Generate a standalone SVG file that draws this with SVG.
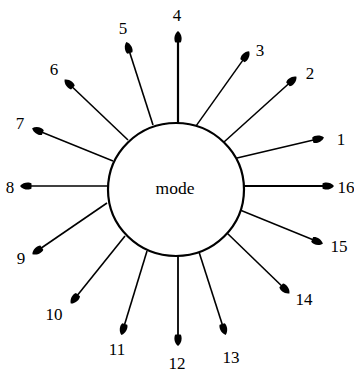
<svg xmlns="http://www.w3.org/2000/svg" width="354" height="372" viewBox="0 0 354 372">
<style>
.ln{stroke:#000;stroke-width:1.6;fill:none;marker-end:url(#ah)}
.tk{stroke-width:2.2}
.lb{font-family:"Liberation Serif","Times New Roman",serif;font-size:17px;fill:#000;text-anchor:middle}
</style>
<defs>
<marker id="ah" markerUnits="userSpaceOnUse" markerWidth="16" markerHeight="12" viewBox="-12 -6 16 12" refX="0" refY="0" orient="auto">
<path d="M2,0 C-1,-4 -7,-4.4 -9.5,-2.6 L-9.5,2.6 C-7,4.4 -1,4 2,0 Z" fill="#000"/>
</marker>
</defs>
<rect width="354" height="372" fill="#fff"/>
<g id="connectors">
<line class="ln" x1="237" y1="158" x2="322" y2="138"/>
<line class="ln" x1="224" y1="142" x2="295" y2="78"/>
<line class="ln" x1="196" y1="126" x2="248" y2="53" style="stroke-width:1.3"/>
<line class="ln tk" x1="178" y1="123" x2="178" y2="33"/>
<line class="ln" x1="153" y1="125" x2="127" y2="44"/>
<line class="ln" x1="128" y1="140" x2="66" y2="81"/>
<line class="ln" x1="113" y1="161" x2="34" y2="129" style="stroke-width:1.4"/>
<line class="ln tk" x1="108" y1="186" x2="22" y2="186" style="stroke-width:1.6"/>
<line class="ln" x1="107" y1="203" x2="34" y2="253"/>
<line class="ln" x1="125" y1="236" x2="72" y2="302"/>
<line class="ln" x1="147" y1="251" x2="122" y2="333"/>
<line class="ln tk" x1="178" y1="256" x2="178" y2="344" style="stroke-width:1.8"/>
<line class="ln" x1="199" y1="252" x2="225" y2="333"/>
<line class="ln" x1="227" y1="233" x2="288" y2="292"/>
<line class="ln" x1="240" y1="210" x2="321" y2="243" style="stroke-width:1.4"/>
<line class="ln tk" x1="243" y1="186" x2="332" y2="186" style="stroke-width:1.8"/>
</g>
<g id="mode">
<ellipse cx="176" cy="189.5" rx="68" ry="66.5" fill="#fff" stroke="#000" stroke-width="2.2"/>
<text class="lb" x="175" y="194" style="font-size:17.5px">mode</text>
</g>
<g id="labels">
<text class="lb" x="341" y="145">1</text>
<text class="lb" x="310" y="79">2</text>
<text class="lb" x="260" y="56">3</text>
<text class="lb" x="177" y="21">4</text>
<text class="lb" x="123" y="34">5</text>
<text class="lb" x="54" y="75">6</text>
<text class="lb" x="20" y="129">7</text>
<text class="lb" x="10" y="193">8</text>
<text class="lb" x="21" y="264">9</text>
<text class="lb" x="54" y="320">10</text>
<text class="lb" x="117" y="355">11</text>
<text class="lb" x="177" y="369">12</text>
<text class="lb" x="231" y="363">13</text>
<text class="lb" x="304" y="305">14</text>
<text class="lb" x="339" y="252">15</text>
<text class="lb" x="346" y="193">16</text>
</g>
</svg>
